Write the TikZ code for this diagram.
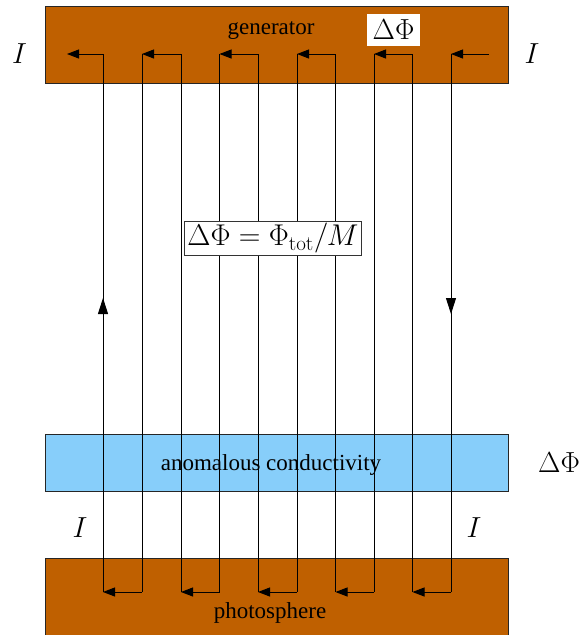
\documentclass[tikz,border=0pt]{standalone}
\usepackage{fix-cm}
\usepackage[no-math]{fontspec}
\setmainfont{Liberation Serif}
\usetikzlibrary{arrows.meta,decorations.markings}
\definecolor{barbrown}{RGB}{191,96,0}
\definecolor{barblue}{RGB}{135,206,250}
\tikzset{
  bar/.style={draw=black!85, line width=0.9pt},
  wire/.style={draw=black, line width=1pt},
  arr/.style={wire, -{Triangle[length=12pt,width=9pt]}},
  bartext/.style={font=\fontsize{23}{27}\selectfont, inner sep=0pt},
  mathlab/.style={font=\fontsize{29}{34}\selectfont, inner sep=0pt},
}
\begin{document}
\begin{tikzpicture}[x=1pt,y=-1pt]
\useasboundingbox (0,0) rectangle (581,635);
% bars
\filldraw[bar, fill=barbrown] (45.4,6) rectangle (508.7,83);
\filldraw[bar, fill=barblue] (45.4,434) rectangle (508.7,491);
\filldraw[bar, fill=barbrown] (45.4,558) rectangle (508.7,640);
% bar labels
\node[bartext] (gen) at (271,31) {generator};
\node[bartext] (anom) at (271,465) {anomalous conductivity};
\node[bartext] (photo) at (270,613) {photosphere};
\node[mathlab, fill=white, minimum width=53pt, minimum height=32pt] (dphitop) at (393.5,30) {$\Delta\Phi$};
\node[mathlab] (dphiright) at (559,463) {$\Delta\Phi$};
% current labels
\node[mathlab] (Itl) at (19.5,54) {$I$};
\node[mathlab] (Itr) at (532,54) {$I$};
\node[mathlab] (Ibl) at (80,528) {$I$};
\node[mathlab] (Ibr) at (474,528) {$I$};
% wire coordinates
\coordinate (T0) at (67,54);
\coordinate (Tin) at (489,54);
\foreach \i/\x in {1/103,2/142,3/181,4/219.5,5/258,6/297,7/335.5,8/374,9/412.5,10/451}{
  \coordinate (T\i) at (\x,54);
  \coordinate (B\i) at (\x,592);
}
% verticals
\foreach \i in {2,...,9}{\draw[wire] (T\i) -- (B\i);}
\draw[wire, postaction={decorate}, decoration={markings, mark=at position 294pt with {\arrow{Triangle[length=16pt,width=10pt]}}}] (B1) -- (T1);
\draw[wire, postaction={decorate}, decoration={markings, mark=at position 260pt with {\arrow{Triangle[length=16pt,width=10pt]}}}] (T10) -- (B10);
% horizontals with arrows
\draw[arr] (Tin) -- (T10);
\draw[arr] (B10) -- (B9);
\draw[arr] (T9) -- (T8);
\draw[arr] (B8) -- (B7);
\draw[arr] (T7) -- (T6);
\draw[arr] (B6) -- (B5);
\draw[arr] (T5) -- (T4);
\draw[arr] (B4) -- (B3);
\draw[arr] (T3) -- (T2);
\draw[arr] (B2) -- (B1);
\draw[arr] (T1) -- (T0);
% formula box
\node[mathlab, font=\fontsize{30}{35}\selectfont, fill=white, draw=black!80, line width=0.7pt, inner xsep=3pt, inner ysep=2pt] (formula) at (273,238) {$\Delta\Phi=\Phi_{\mathrm{tot}}/M$};
\end{tikzpicture}
\end{document}
